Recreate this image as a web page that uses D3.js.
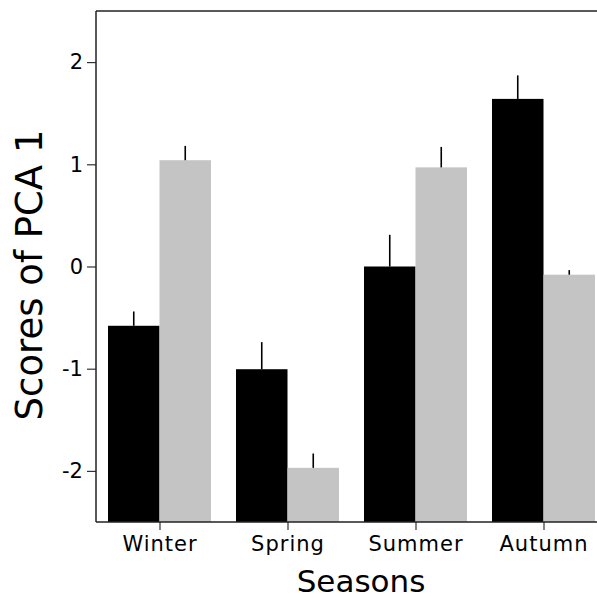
<!DOCTYPE html>
<html>
<head>
<meta charset="utf-8">
<script src="https://cdn.jsdelivr.net/npm/d3@7"></script>
<style>
  body { margin: 0; background: #fff; }
  svg { display: block; }
  text { font-family: "DejaVu Sans", Verdana, sans-serif; fill: #000; }
</style>
</head>
<body>
<svg id="chart" width="597" height="600"></svg>
<script>
const seasons = ["Winter", "Spring", "Summer", "Autumn"];
const seriesNames = ["Group A", "Group B"];
const blackValues = [-0.58, -1.005, 0.0, 1.64];
const blackErrors = [0.14, 0.265, 0.31, 0.23];
const grayValues = [1.04, -1.97, 0.97, -0.08];
const grayErrors = [0.14, 0.14, 0.2, 0.045];
const yTicks = [-2, -1, 0, 1, 2];
const seriesColors = ["#000000", "#c4c4c4"];

const svg = d3.select("#chart");
const mLeft = 96, mTop = 11, mBottom = 522, mRight = 608;

const x = d3.scaleBand().domain(seasons).range([mLeft, mRight]).paddingInner(0).paddingOuter(0);
const y = d3.scaleLinear().domain([-2.5, 2.5]).range([mBottom, mTop]);
const xs = d3.scaleBand().domain(seriesNames).range([12, x.bandwidth() - 13]);

const data = seasons.map((s, i) => ({
  season: s,
  values: [
    { name: seriesNames[0], v: blackValues[i], e: blackErrors[i], c: seriesColors[0] },
    { name: seriesNames[1], v: grayValues[i], e: grayErrors[i], c: seriesColors[1] }
  ]
}));

const groups = svg.append("g").selectAll("g").data(data).join("g")
  .attr("transform", d => `translate(${x(d.season)},0)`);

groups.selectAll("rect").data(d => d.values).join("rect")
  .attr("x", d => xs(d.name))
  .attr("width", xs.bandwidth())
  .attr("y", d => y(d.v))
  .attr("height", d => y(-2.5) - y(d.v))
  .attr("fill", d => d.c);

groups.selectAll("line.err").data(d => d.values).join("line")
  .attr("class", "err")
  .attr("x1", d => xs(d.name) + xs.bandwidth() / 2)
  .attr("x2", d => xs(d.name) + xs.bandwidth() / 2)
  .attr("y1", d => y(d.v))
  .attr("y2", d => y(d.v + d.e))
  .attr("stroke", "#000")
  .attr("stroke-width", 1.6);

// Axes
const yAxis = svg.append("g")
  .attr("transform", `translate(${mLeft},0)`)
  .call(d3.axisLeft(y).tickValues(yTicks).tickSize(9).tickPadding(4).tickFormat(d => String(d)));
yAxis.select(".domain").remove();
yAxis.selectAll(".tick line").attr("stroke", "#333").attr("stroke-width", 1.2);
yAxis.selectAll("text").attr("font-size", 21).attr("font-family", "DejaVu Sans, Verdana, sans-serif");

const xAxis = svg.append("g")
  .attr("transform", `translate(0,${mBottom})`)
  .call(d3.axisBottom(x).tickSize(8).tickPadding(6));
xAxis.select(".domain").remove();
xAxis.selectAll(".tick line").attr("stroke", "#333").attr("stroke-width", 1.2);
xAxis.selectAll("text").attr("font-size", 21).attr("letter-spacing", 1).attr("font-family", "DejaVu Sans, Verdana, sans-serif");

// Frame lines: left, top, bottom
svg.append("line").attr("x1", mLeft).attr("x2", mLeft).attr("y1", mTop).attr("y2", mBottom)
  .attr("stroke", "#222").attr("stroke-width", 1.5);
svg.append("line").attr("x1", mLeft).attr("x2", 597).attr("y1", mTop).attr("y2", mTop)
  .attr("stroke", "#222").attr("stroke-width", 1.5);
svg.append("line").attr("x1", mLeft).attr("x2", 597).attr("y1", mBottom).attr("y2", mBottom)
  .attr("stroke", "#222").attr("stroke-width", 1.5);

// Titles
svg.append("text").attr("x", 361).attr("y", 592).attr("text-anchor", "middle")
  .attr("font-size", 31).text("Seasons");
svg.append("text").attr("transform", "translate(42,275) rotate(-90)").attr("text-anchor", "middle")
  .attr("font-size", 37).text("Scores of PCA 1");
</script>
</body>
</html>
